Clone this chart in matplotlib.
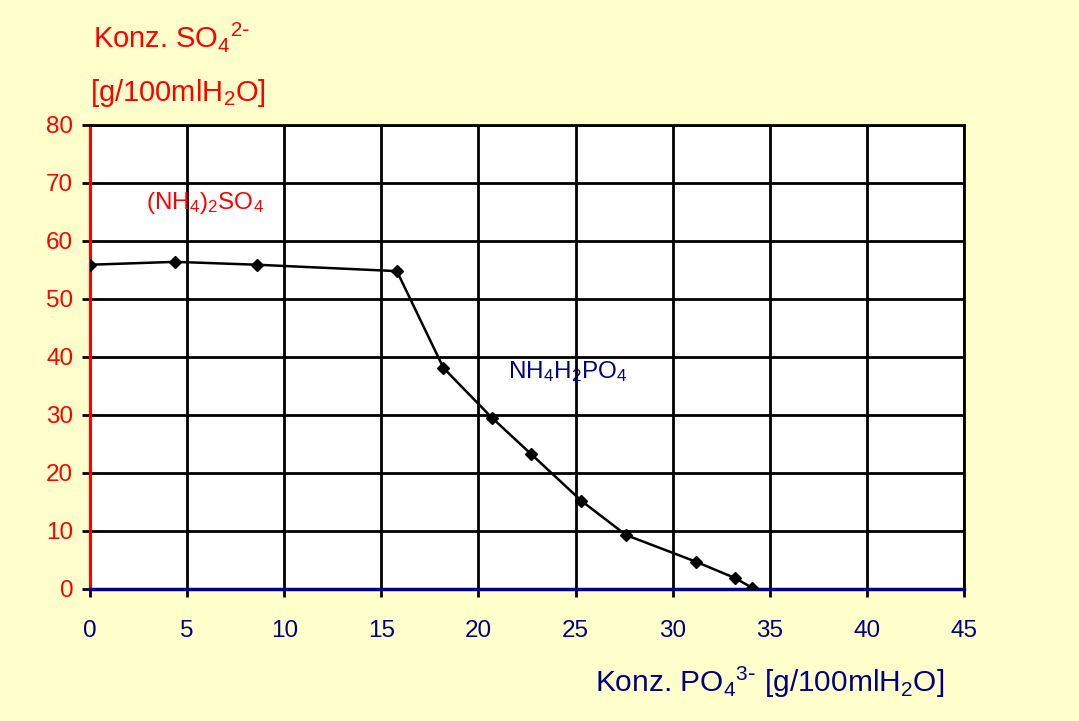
import matplotlib.pyplot as plt

plt.rcParams['font.family'] = ['Liberation Sans', 'DejaVu Sans']
plt.rcParams['mathtext.default'] = 'regular'

# data
po4 = [0, 4.4, 8.6, 15.8, 18.2, 20.7, 22.7, 25.3, 27.6, 31.2, 33.2, 34.1]
so4 = [55.9, 56.4, 55.9, 54.8, 38.1, 29.5, 23.3, 15.2, 9.3, 4.7, 1.9, 0.2]
xticks = [0, 5, 10, 15, 20, 25, 30, 35, 40, 45]
yticks = [0, 10, 20, 30, 40, 50, 60, 70, 80]

red = '#ff0000'
navy = '#000080'

fig = plt.figure(figsize=(10.79, 7.21), dpi=100)
fig.patch.set_facecolor('#ffffcc')
ax = fig.add_axes([0.0834, 0.1831, 0.81, 0.6436])
ax.set_facecolor('white')

ax.plot(po4, so4, color='black', lw=1.8, marker='D', ms=6, zorder=3)

ax.set_xlim(0, 45)
ax.set_ylim(0, 80)
ax.set_xticks(xticks)
ax.set_yticks(yticks)
ax.grid(True, color='black', lw=2)
ax.set_axisbelow(True)

for s in ['top', 'right']:
    ax.spines[s].set_color('black')
    ax.spines[s].set_linewidth(2)
ax.spines['left'].set_color(red)
ax.spines['left'].set_linewidth(2.2)
ax.spines['bottom'].set_color(navy)
ax.spines['bottom'].set_linewidth(2.5)

ax.tick_params(axis='y', colors='black', labelcolor=red, labelsize=17.5, length=6, width=2, pad=6)
ax.tick_params(axis='x', colors='black', labelcolor=navy, labelsize=17.5, length=6, width=2, pad=16)

ax.text(2.9, 65.5, r'(NH$_4$)$_2$SO$_4$', color=red, fontsize=17.5)
ax.text(21.5, 36.3, r'NH$_4$H$_2$PO$_4$', color=navy, fontsize=17.5)

fig.text(0.086, 0.935, r'Konz. SO$_4$$^{2\text{-}}$', color=red, fontsize=21)
fig.text(0.083, 0.86, r'[g/100mlH$_2$O]', color=red, fontsize=21)
fig.text(0.551, 0.04, r'Konz. PO$_4$$^{3\text{-}}$ [g/100mlH$_2$O]', color=navy, fontsize=21.5)

fig.savefig('out.png', dpi=100, facecolor=fig.get_facecolor())
